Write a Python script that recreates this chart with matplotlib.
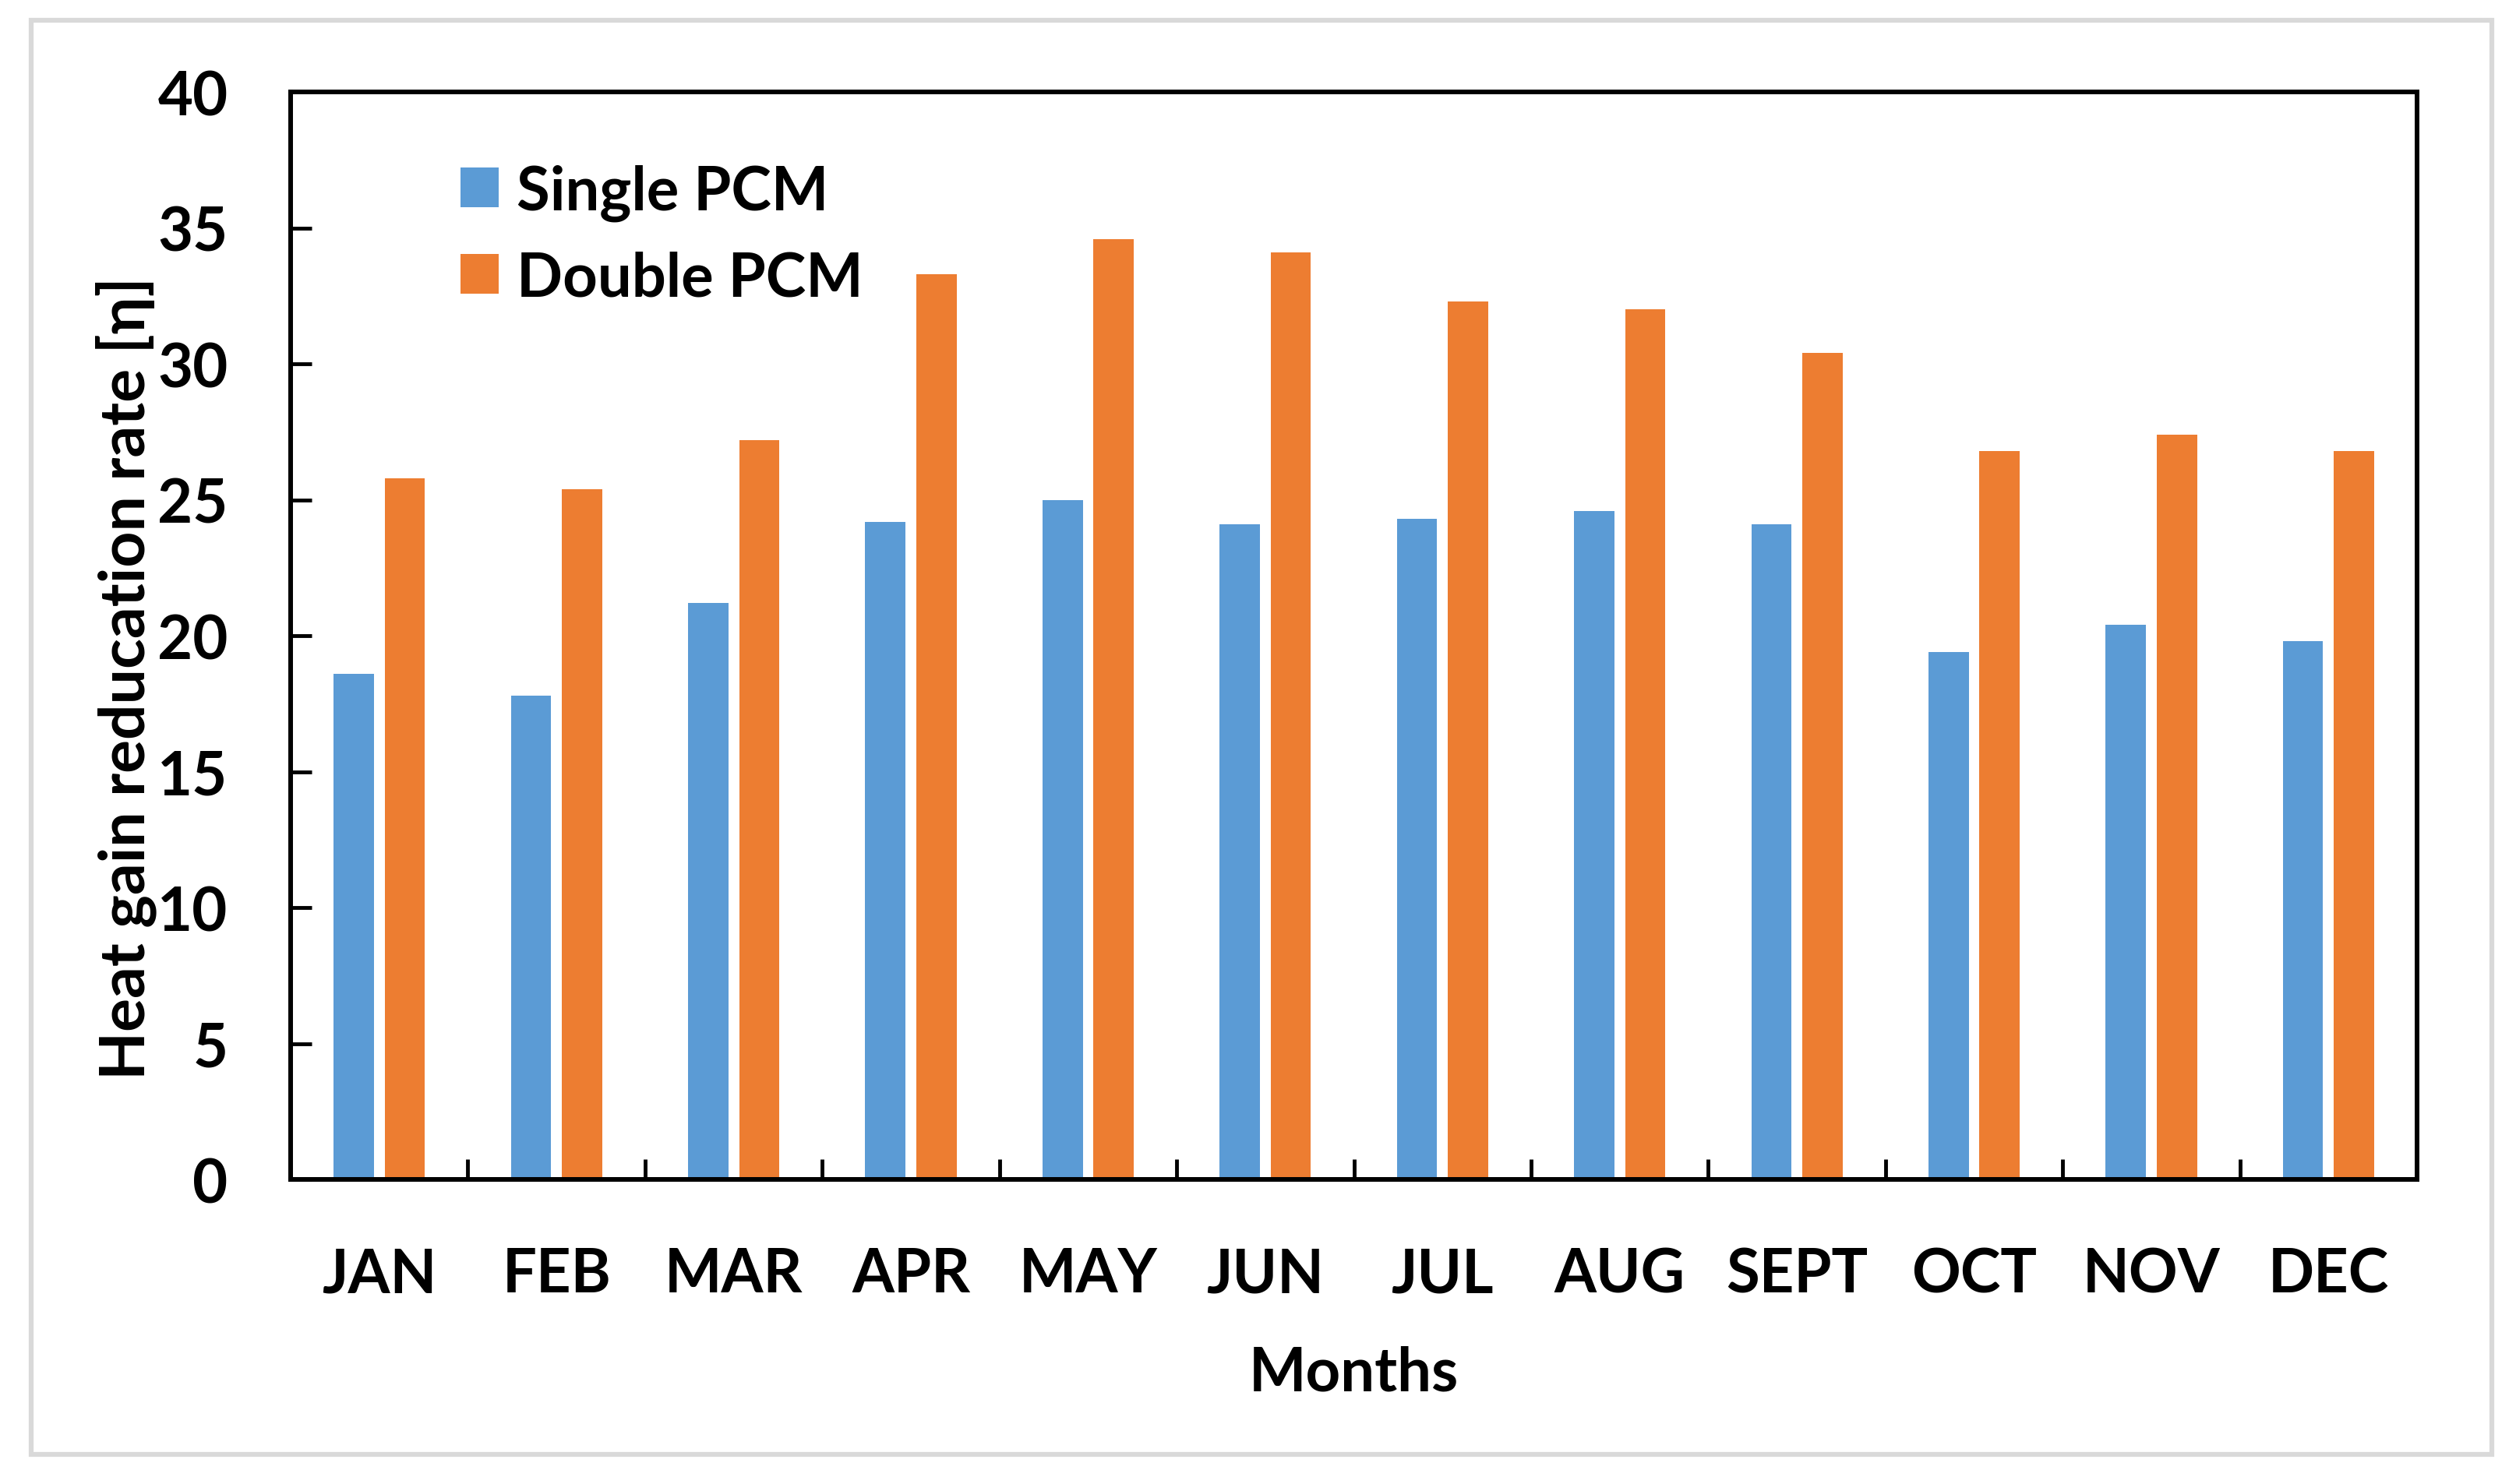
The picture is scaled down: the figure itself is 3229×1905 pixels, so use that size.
import matplotlib
matplotlib.use("Agg")
import matplotlib.pyplot as plt
import numpy as np
from matplotlib.patches import Rectangle

months = ['JAN', 'FEB', 'MAR', 'APR', 'MAY', 'JUN', 'JUL', 'AUG', 'SEPT', 'OCT', 'NOV', 'DEC']
single_pcm = [18.6, 17.8, 21.2, 24.2, 25.0, 24.1, 24.3, 24.6, 24.1, 19.4, 20.4, 19.8]
double_pcm = [25.8, 25.4, 27.2, 33.3, 34.6, 34.1, 32.3, 32.0, 30.4, 26.8, 27.4, 26.8]

plt.rcParams['font.family'] = ['Lato', 'DejaVu Sans']
plt.rcParams['font.weight'] = 'bold'

FS = 56

fig = plt.figure(figsize=(32.3, 19.06), dpi=100)
ax = fig.add_axes([0.1155, 0.2051, 0.8449, 0.7324])

# cadre gris autour de la figure
fig.patches.append(Rectangle((0.0124, 0.0199), 0.9777, 0.966, transform=fig.transFigure,
                             fill=False, edgecolor='#D9D9D9', linewidth=4.5))

x = np.arange(len(months))
w = 0.227
off = 0.144
ax.bar(x - off, single_pcm, w, color='#5B9BD5', label='Single PCM')
ax.bar(x + off, double_pcm, w, color='#ED7D31', label='Double PCM')

ax.set_xlim(-0.5, len(months) - 0.5)
ax.set_ylim(0, 40)
ax.set_yticks(np.arange(0, 41, 5))
ax.set_xticks(x)
ax.set_xticklabels(months)
ax.set_xticks(np.arange(0.5, len(months) - 1, 1), minor=True)

ax.tick_params(axis='x', which='major', length=0, pad=62, labelsize=FS)
ax.tick_params(axis='x', which='minor', direction='in', length=18.5, width=3.5)
ax.tick_params(axis='y', direction='in', length=19.5, width=3.5, pad=58, labelsize=FS)

for s in ax.spines.values():
    s.set_linewidth(4.3)

ax.set_xlabel('Months', fontsize=FS, fontweight='bold', labelpad=39)
ax.set_ylabel('Heat gain reducation rate [η]', fontsize=58, fontweight='bold')
ax.yaxis.set_label_coords(-0.063, 0.462)

ax.legend(loc='upper left', bbox_to_anchor=(0.080, 0.934), frameon=False, fontsize=FS,
          handlelength=0.62, handleheight=0.63, handletextpad=0.3, labelspacing=0.48,
          borderpad=0, borderaxespad=0)

fig.savefig('out.png', dpi=100)
